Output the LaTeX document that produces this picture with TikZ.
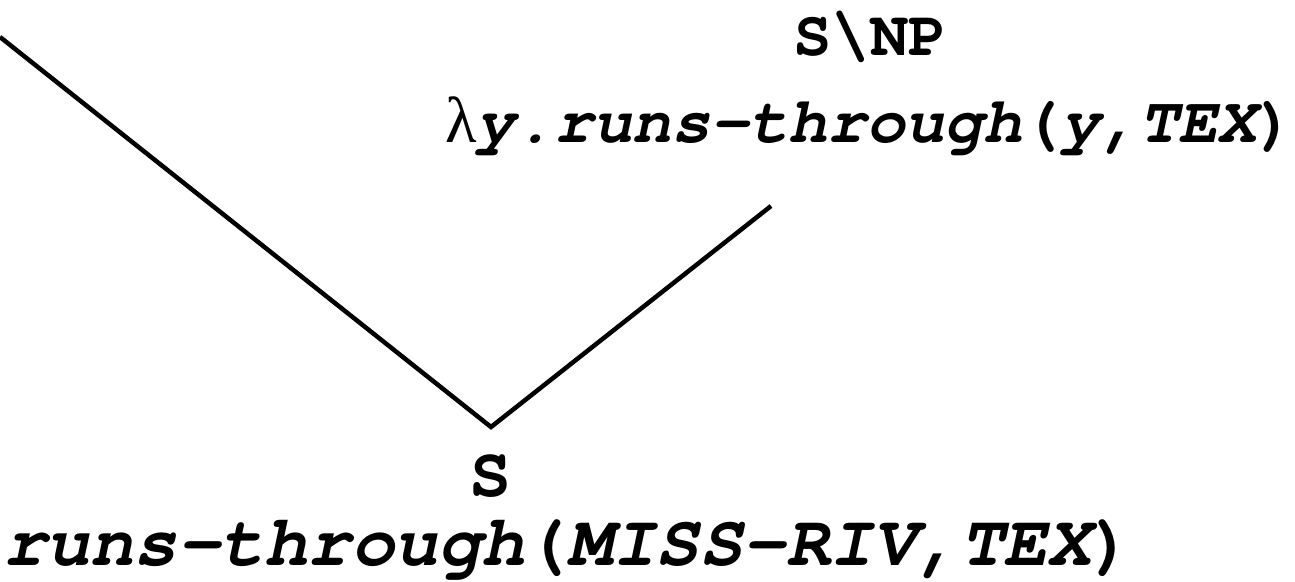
\documentclass[tikz,border=0pt]{standalone}
\usepackage{fontspec}
\newfontfamily\cmono{TeX Gyre Cursor}
\newfontfamily\lamfont{Liberation Serif}
\tikzset{
  cat/.style={inner sep=0pt, anchor=base, font=\cmono\bfseries\fontsize{64}{70}\selectfont},
  catb/.style={inner sep=0pt, anchor=base, font=\cmono\bfseries\fontsize{70}{80}\selectfont},
  sem/.style={inner sep=0pt, anchor=base west, font=\cmono\bfseries\fontsize{65}{70}\selectfont},
  semb/.style={inner sep=0pt, anchor=base west, font=\cmono\bfseries\fontsize{72.5}{80}\selectfont},
  branch/.style={line width=4.5pt, line cap=butt, line join=miter}
}
\newcommand{\itx}[1]{{\itshape #1}}
\newcommand{\lam}{{\lamfont\mdseries\upshape λ}}
\begin{document}
\begin{tikzpicture}[x=1pt,y=-1pt]
\useasboundingbox (0,0) rectangle (1295,581);
\node[cat] (topcat) at (870,55) {S\textbackslash NP};
\node[sem] (topsem) at (445,142) {\lam\itx{y.runs-through}(\itx{y,TEX})};
\node[catb] (botcat) at (490,496) {S};
\node[semb] (botsem) at (3,565) {\itx{runs-through}(\itx{MISS-RIV,TEX})};
\coordinate (l) at (0,37);
\coordinate (v) at (491,427);
\coordinate (r) at (771,206);
\draw[branch] (l) -- (v) -- (r);
\end{tikzpicture}
\end{document}
